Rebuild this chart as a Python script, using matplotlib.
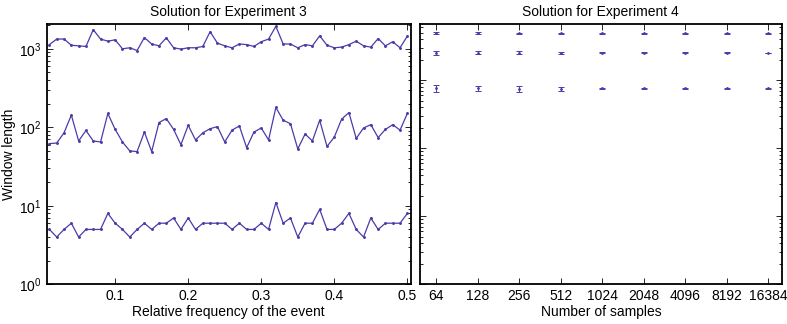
import matplotlib
matplotlib.use("Agg")
import matplotlib.pyplot as plt
import matplotlib.ticker as mticker
import numpy as np

plt.rcParams["font.family"] = ["Liberation Sans", "DejaVu Sans"]
plt.rcParams["font.size"] = 10

LINE_COLOR = "#4b3ca8"

# Experiment 3: relative frequency of the event vs window length
rel_freq = np.arange(1, 51) / 100
win_high = [1130, 1330, 1330, 1110, 1090, 1070, 1750, 1330, 1250, 1300,
            1000, 1030, 950, 1390, 1150, 1090, 1380, 1030, 990, 1030,
            1030, 1070, 1650, 1180, 1090, 1030, 1150, 1130, 1070, 1230,
            1330, 1930, 1150, 1150, 1030, 1130, 1090, 1460, 1110, 1030,
            1050, 1130, 1250, 1090, 1050, 1350, 1090, 1230, 1030, 1450]
win_mid = [62, 63, 85, 143, 67, 91, 67, 65, 150, 94,
           65, 50, 49, 87, 49, 115, 129, 94, 60, 106,
           69, 85, 96, 102, 65, 92, 104, 55, 87, 98,
           69, 179, 123, 111, 53, 82, 67, 123, 57, 75,
           127, 154, 72, 98, 108, 74, 94, 108, 92, 150]
win_low = [5, 4, 5, 6, 4, 5, 5, 5, 8, 6,
           5, 4, 5, 6, 5, 6, 6, 7, 5, 7,
           5, 6, 6, 6, 6, 5, 6, 5, 5, 6,
           5, 11, 6, 7, 4, 6, 6, 9, 5, 5,
           6, 8, 5, 4, 7, 5, 6, 6, 6, 8]

# Experiment 4: number of samples vs window length (mean and error)
n_samples = [64, 128, 256, 512, 1024, 2048, 4096, 8192, 16384]
e4_high = [4860, 4860, 4860, 4860, 4860, 4860, 4860, 4860, 4860]
e4_high_err = [180, 150, 130, 100, 80, 60, 50, 40, 30]
e4_mid = [2520, 2520, 2520, 2520, 2520, 2520, 2520, 2520, 2520]
e4_mid_err = [200, 130, 120, 80, 60, 50, 40, 30, 20]
e4_low = [755, 755, 740, 745, 755, 755, 755, 755, 755]
e4_low_err = [90, 70, 65, 55, 15, 20, 12, 15, 8]


def style_axes(ax):
    ax.tick_params(which="both", direction="in", top=True, right=True,
                   labelsize=10, width=0.6)
    ax.tick_params(which="major", length=4)
    ax.tick_params(which="minor", length=2)
    for sp in ax.spines.values():
        sp.set_linewidth(1.3)


fig = plt.figure(figsize=(7.87, 3.24), dpi=100)
W, H = 787, 324
ax1 = fig.add_axes([46.5 / W, 1 - 284.3 / H, (411 - 46.5) / W, (284.3 - 24.3) / H])
ax2 = fig.add_axes([420 / W, 1 - 284.3 / H, (781.7 - 420) / W, (284.3 - 24.3) / H])

for series in (win_high, win_mid, win_low):
    ax1.plot(rel_freq, series, color=LINE_COLOR, lw=0.9, marker=".", ms=2.2)
ax1.set_yscale("log")
ax1.set_ylim(1, 2050)
ax1.set_xlim(0.006, 0.505)
ax1.set_xticks([0.1, 0.2, 0.3, 0.4, 0.5])
ax1.set_xticklabels(["0.1", "0.2", "0.3", "0.4", "0.5"])
ax1.set_xlabel("Relative frequency of the event", labelpad=1)
ax1.set_ylabel("Window length", labelpad=2)
ax1.set_title("Solution for Experiment 3", fontsize=10, pad=6)
style_axes(ax1)

for vals, errs in ((e4_high, e4_high_err), (e4_mid, e4_mid_err), (e4_low, e4_low_err)):
    ax2.errorbar(n_samples, vals, yerr=errs, fmt=".", color=LINE_COLOR,
                 ms=2, elinewidth=0.7, capsize=2, capthick=0.7)
ax2.set_xscale("log", base=2)
ax2.set_yscale("log")
ax2.set_xlim(49, 20500)
ax2.set_ylim(1, 6600)
ax2.set_xticks(n_samples)
ax2.xaxis.set_major_formatter(mticker.FixedFormatter([str(n) for n in n_samples]))
ax2.xaxis.set_minor_locator(mticker.NullLocator())
ax2.yaxis.set_major_formatter(mticker.NullFormatter())
ax2.yaxis.set_minor_formatter(mticker.NullFormatter())
ax2.set_xlabel("Number of samples", labelpad=1)
ax2.set_title("Solution for Experiment 4", fontsize=10, pad=6)
style_axes(ax2)

fig.savefig("out.png", dpi=100)
